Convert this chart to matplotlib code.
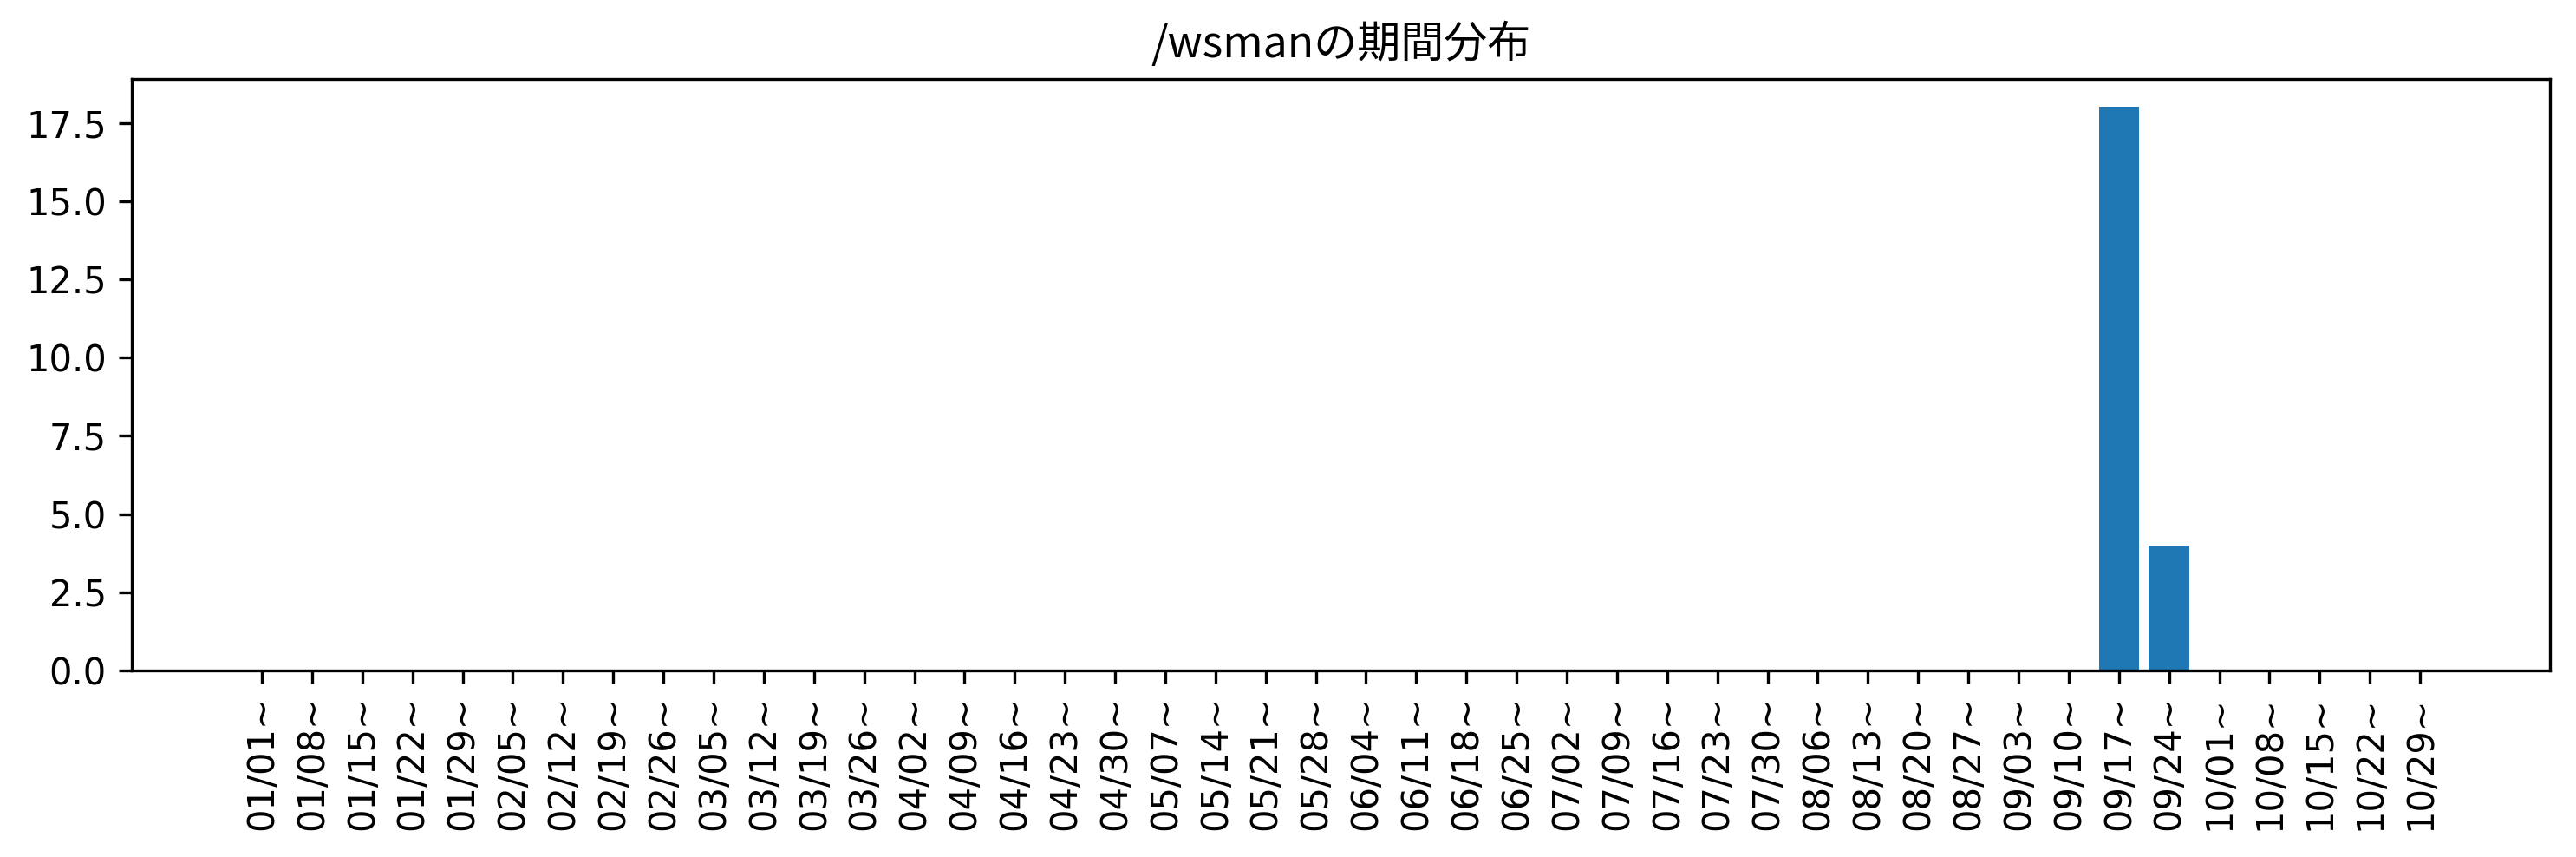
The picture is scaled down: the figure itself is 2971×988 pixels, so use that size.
import matplotlib
matplotlib.use("Agg")
import matplotlib.pyplot as plt

title = "/wsmanの期間分布"

weeks = ["01/01", "01/08", "01/15", "01/22", "01/29", "02/05", "02/12", "02/19",
         "02/26", "03/05", "03/12", "03/19", "03/26", "04/02", "04/09", "04/16",
         "04/23", "04/30", "05/07", "05/14", "05/21", "05/28", "06/04", "06/11",
         "06/18", "06/25", "07/02", "07/09", "07/16", "07/23", "07/30", "08/06",
         "08/13", "08/20", "08/27", "09/03", "09/10", "09/17", "09/24", "10/01",
         "10/08", "10/15", "10/22", "10/29"]
counts = [0] * len(weeks)
counts[weeks.index("09/17")] = 18
counts[weeks.index("09/24")] = 4

labels = [w + "~" for w in weeks]

fig = plt.figure(figsize=(2971 / 300, 988 / 300), dpi=300)
ax = fig.add_axes([0.0512, 0.2176, 0.9387, 0.6903])
ax.bar(range(len(weeks)), counts, color="#1f77b4")
ax.set_xticks(range(len(weeks)))
ax.set_xticklabels(labels, rotation=90)
ax.set_title(title, family=["Noto Sans CJK JP", "DejaVu Sans"], fontsize=12)

fig.savefig("out.png", dpi=300)
